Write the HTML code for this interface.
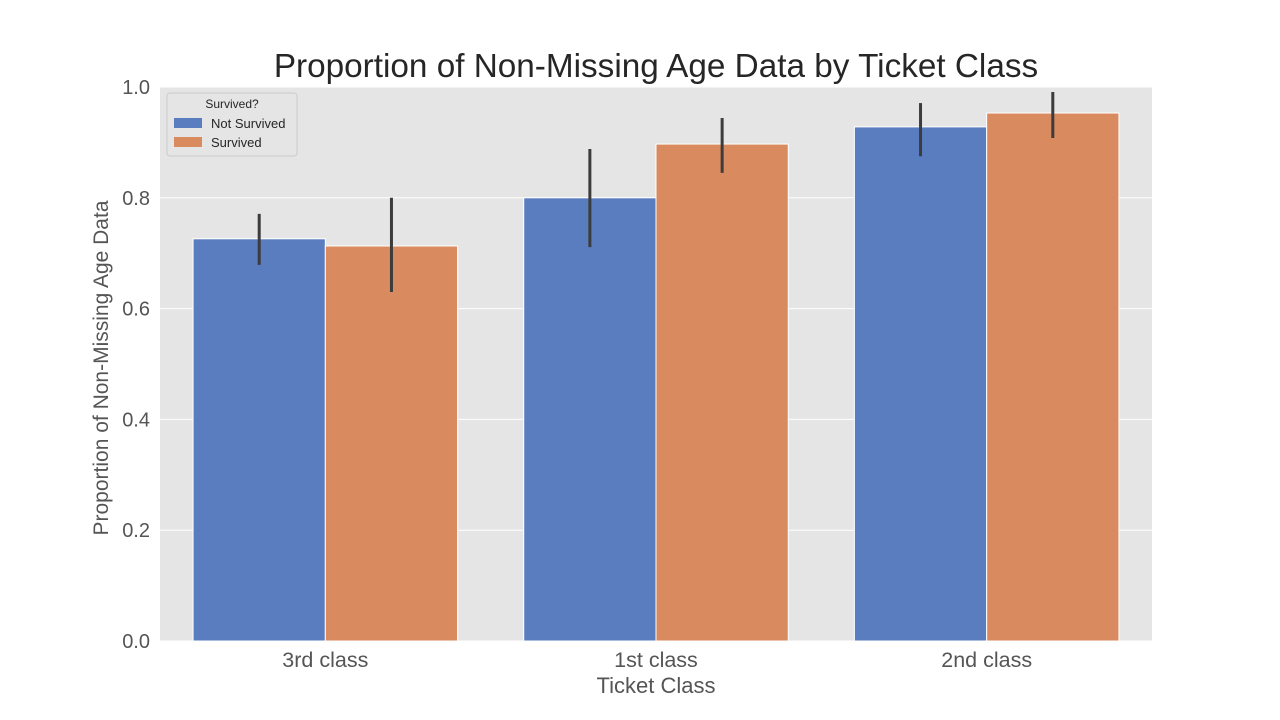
<!DOCTYPE html>
<html><head><meta charset="utf-8"><style>
body{margin:0;background:#fff;}
svg{display:block;font-family:"Liberation Sans",Arial,sans-serif;}
</style></head><body>
<svg id="chart" width="1280" height="720">
<rect x="160" y="87" width="992" height="554" fill="#e5e5e5"/>
<g id="grid"></g><g id="bars"></g><g id="errs"></g><g id="axes"></g>
<text x="656" y="77" text-anchor="middle" font-size="33.3" fill="#262626">Proportion of Non-Missing Age Data by Ticket Class</text>
<text x="656" y="693" text-anchor="middle" font-size="22" fill="#555">Ticket Class</text>
<text transform="translate(108,368) rotate(-90)" text-anchor="middle" font-size="21" fill="#555">Proportion of Non-Missing Age Data</text>
<g>
<rect x="167" y="93" width="130" height="63" rx="3" fill="#e5e5e5" fill-opacity="0.8" stroke="#ccc"/>
<text x="232" y="108" text-anchor="middle" font-size="12" fill="#262626">Survived?</text>
<rect x="174" y="118" width="28" height="10" fill="#5a7dc0"/>
<text x="211" y="128" font-size="13" fill="#262626">Not Survived</text>
<rect x="174" y="137" width="28" height="10" fill="#d98a5e"/>
<text x="211" y="147" font-size="13" fill="#262626">Survived</text>
</g>
</svg>
<script>
const categories=["3rd class","1st class","2nd class"];
const notSurvived=[0.726,0.800,0.928];
const survived=[0.713,0.897,0.953];
const notSurvivedLo=[0.679,0.711,0.875];
const notSurvivedHi=[0.771,0.888,0.971];
const survivedLo=[0.630,0.845,0.908];
const survivedHi=[0.800,0.944,0.991];
const yTicks=[0,0.2,0.4,0.6,0.8,1.0];
const NS="http://www.w3.org/2000/svg";
const X0=160,X1=1152,Y0=641,Y1=87;
const y=v=>Y0-(Y0-Y1)*v;
const slot=(X1-X0)/categories.length;
const cx=i=>X0+slot*(i+0.5);
function mk(tag,attrs,parent){const e=document.createElementNS(NS,tag);for(const k in attrs)e.setAttribute(k,attrs[k]);document.getElementById(parent).appendChild(e);return e;}
yTicks.forEach(t=>{
 const l=mk('line',{x1:X0,x2:X1,y1:y(t),y2:y(t),stroke:'#fff','stroke-width':1},'grid');
 
 
 const tx=mk('text',{x:150,y:y(t)+7,'text-anchor':'end','font-size':20,fill:'#555'},'axes');
 tx.textContent=t.toFixed(1);
 
 
});
const bw=slot*0.4;
const series=[[notSurvived,notSurvivedLo,notSurvivedHi,'#5a7dc0','not-survived'],[survived,survivedLo,survivedHi,'#d98a5e','survived']];
categories.forEach((c,i)=>{
 series.forEach((s,j)=>{
  const x=cx(i)-bw+j*bw;
  const r=mk('rect',{x:x,y:y(s[0][i]),width:bw,height:Y0-y(s[0][i]),fill:s[3],stroke:'#fff','stroke-width':1},'bars');
  
  
  const e=mk('line',{x1:x+bw/2,x2:x+bw/2,y1:y(s[1][i]),y2:y(s[2][i]),stroke:'#3c3c3c','stroke-width':3},'errs');
  
  
 });
 const t=mk('text',{x:cx(i),y:667,'text-anchor':'middle','font-size':21.5,fill:'#555'},'axes');
 t.textContent=c;
 
 
});
</script>
</body></html>
